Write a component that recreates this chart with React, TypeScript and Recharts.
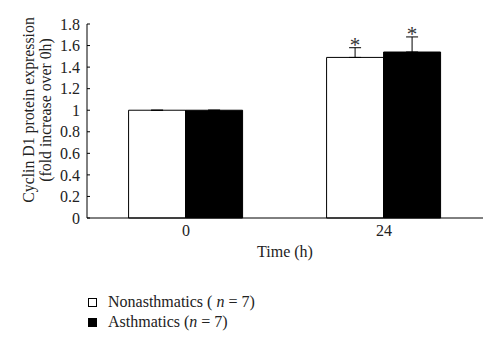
import React from 'react';
import { Bar, BarChart, ErrorBar, LabelList, XAxis, YAxis } from 'recharts';

const times = ['0', '24'];
const nonasthmatics = [1.0, 1.49];
const asthmatics = [1.0, 1.54];
const nonasthmaticsErr = [0, 0.09];
const asthmaticsErr = [0, 0.14];
const nonasthmaticsSig = ['', '*'];
const asthmaticsSig = ['', '*'];
const yTicks = [0, 0.2, 0.4, 0.6, 0.8, 1, 1.2, 1.4, 1.6, 1.8];
const legendItems = [
  { pre: 'Nonasthmatics ( ', italic: 'n', post: ' = 7)', fill: '#fff' },
  { pre: 'Asthmatics (', italic: 'n', post: ' = 7)', fill: '#000' },
];

const FONT = '"Liberation Serif", "DejaVu Serif", serif';

const data = times.map((t, i) => ({
  time: t,
  non: nonasthmatics[i],
  asth: asthmatics[i],
  nonErr: [0, nonasthmaticsErr[i]],
  asthErr: [0, asthmaticsErr[i]],
}));

// draws the significance star just above the top of the error bar
const makeStar = (errs: number[], sigs: string[]) => (props: any) => {
  const { x, y, width, height, value, index } = props;
  if (!sigs[index]) return null;
  const err = errs[index];
  const top = y - (err * height) / value;
  return (
    <text x={x + width / 2} y={top + 4} textAnchor="middle" fontSize={21} fontFamily={FONT} fill="#333">
      {sigs[index]}
    </text>
  );
};

const YLabel = (props: any) => {
  const vb = props.viewBox;
  const cy = vb.y + vb.height / 2 - 11;
  return (
    <g fontFamily={FONT} fontSize={15.8} fill="#222">
      <text x={28} y={cy} transform={`rotate(-90, 28, ${cy})`} textAnchor="middle" dominantBaseline="central">
        Cyclin D1 protein expression
      </text>
      <text x={45} y={cy} transform={`rotate(-90, 45, ${cy})`} textAnchor="middle" dominantBaseline="central">
        (fold increase over 0h)
      </text>
    </g>
  );
};

export default function App() {
  return (
    <div style={{ position: 'absolute', left: 0, top: 0, width: 500, height: 359, background: '#fff' }}>
      <BarChart
        width={500}
        height={359}
        data={data}
        margin={{ top: 24, right: 17, bottom: 111, left: 0 }}
        barCategoryGap="21%"
        barGap={0}
      >
        <XAxis
          dataKey="time"
          tickLine={false}
          tickSize={0}
          tickMargin={7}
          height={30}
          axisLine={{ stroke: '#000' }}
          tick={{ fontSize: 16, fontFamily: FONT, fill: '#222' }}
          label={{ value: 'Time (h)', position: 'bottom', offset: -2, fontSize: 16, fontFamily: FONT, fill: '#222' }}
        />
        <YAxis
          width={87}
          domain={[0, 1.8]}
          ticks={yTicks}
          interval={0}
          tickSize={-3}
          tickMargin={10}
          axisLine={{ stroke: '#000' }}
          tickLine={{ stroke: '#000' }}
          tick={{ fontSize: 16, fontFamily: FONT, fill: '#222' }}
          label={<YLabel />}
        />
        <Bar dataKey="non" fill="#fff" stroke="#000" strokeWidth={1} isAnimationActive={false}>
          <ErrorBar dataKey="nonErr" width={6} stroke="#000" strokeWidth={1} direction="y" />
          <LabelList dataKey="non" content={makeStar(nonasthmaticsErr, nonasthmaticsSig)} />
        </Bar>
        <Bar dataKey="asth" fill="#000" stroke="#000" strokeWidth={1} isAnimationActive={false}>
          <ErrorBar dataKey="asthErr" width={6} stroke="#000" strokeWidth={1} direction="y" />
          <LabelList dataKey="asth" content={makeStar(asthmaticsErr, asthmaticsSig)} />
        </Bar>
      </BarChart>
      <div style={{ position: 'absolute', left: 88, top: 292, fontFamily: FONT, fontSize: 16, color: '#222' }}>
        {legendItems.map((item) => (
          <div key={item.pre} style={{ display: 'flex', alignItems: 'center', height: 20 }}>
            <span
              style={{
                display: 'inline-block',
                width: 7,
                height: 7,
                border: '1px solid #000',
                background: item.fill,
                marginRight: 11,
              }}
            />
            <span>
              {item.pre}
              <i>{item.italic}</i>
              {item.post}
            </span>
          </div>
        ))}
      </div>
    </div>
  );
}
